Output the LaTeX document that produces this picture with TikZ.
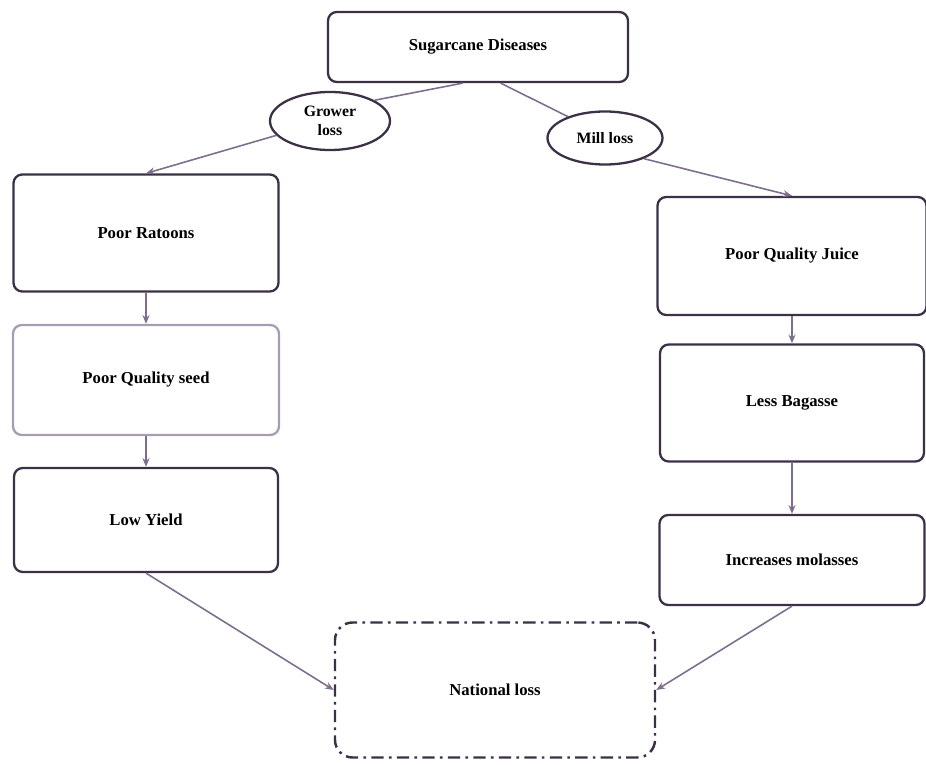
\documentclass[tikz,border=0pt]{standalone}
\usepackage{fontspec}
\setmainfont{Liberation Serif}
\usetikzlibrary{shapes.geometric,arrows.meta}
\definecolor{inkdark}{HTML}{3B3046}
\definecolor{inkpale}{HTML}{A69DB0}
\definecolor{inkline}{HTML}{7E6E8E}

\begin{document}
\begin{tikzpicture}[
    box/.style = {draw=inkdark, line width=1.3pt, rounded corners=5pt, align=center,
        font=\bfseries\fontsize{9.5}{11}\selectfont},
    palebox/.style = {box, draw=inkpale},
    lossoval/.style = {ellipse, draw=inkdark, line width=1.3pt, inner sep=0pt, align=center,
        font=\bfseries\fontsize{9}{10.5}\selectfont},
    natbox/.style = {box, line width=1.4pt, rounded corners=10pt,
        dash pattern=on 7pt off 3pt on 1.5pt off 3pt},
    link/.style = {draw=inkline, line width=0.9pt},
    flow/.style = {link, -{Stealth[length=5pt,width=4pt]}}
]
\useasboundingbox (0,0) rectangle (18.52,-15.3);

\node (sd) [box, minimum width=6cm, minimum height=1.4cm] at (9.56,-0.94) {Sugarcane Diseases};
\node (grower) [lossoval, minimum width=2.4cm, minimum height=1.16cm] at (6.6,-2.42) {Grower\\loss};
\node (mill) [lossoval, minimum width=2.3cm, minimum height=1.06cm] at (12.1,-2.76) {Mill loss};

% left column
\node (ratoons) [box, minimum width=5.3cm, minimum height=2.34cm] at (2.92,-4.66) {Poor Ratoons};
\node (seed) [palebox, minimum width=5.32cm, minimum height=2.2cm] at (2.92,-7.6) {Poor Quality seed};
\node (yield) [box, minimum width=5.28cm, minimum height=2.08cm] at (2.92,-10.4) {Low Yield};

% right column
\node (juice) [box, minimum width=5.38cm, minimum height=2.36cm] at (15.84,-5.12) {Poor Quality Juice};
\node (bagasse) [box, minimum width=5.28cm, minimum height=2.34cm] at (15.84,-8.06) {Less Bagasse};
\node (molasses) [box, minimum width=5.3cm, minimum height=1.8cm] at (15.84,-11.2) {Increases molasses};

\node (national) [natbox, minimum width=6.4cm, minimum height=2.7cm] at (9.9,-13.8) {National loss};

\draw [link] (sd.247) -- (grower.25);
\draw [flow] (grower.195) -- (ratoons.north);
\draw [link] (sd.302) -- (mill.150);
\draw [flow] (mill.-28) -- (juice.north);

\draw [flow] (ratoons.south) -- (seed.north);
\draw [flow] (seed.south) -- (yield.north);
\draw [flow] (juice.south) -- (bagasse.north);
\draw [flow] (bagasse.south) -- (molasses.north);

\draw [flow] (yield.south) -- (national.west);
\draw [flow] (molasses.south) -- (national.east);
\end{tikzpicture}
\end{document}
